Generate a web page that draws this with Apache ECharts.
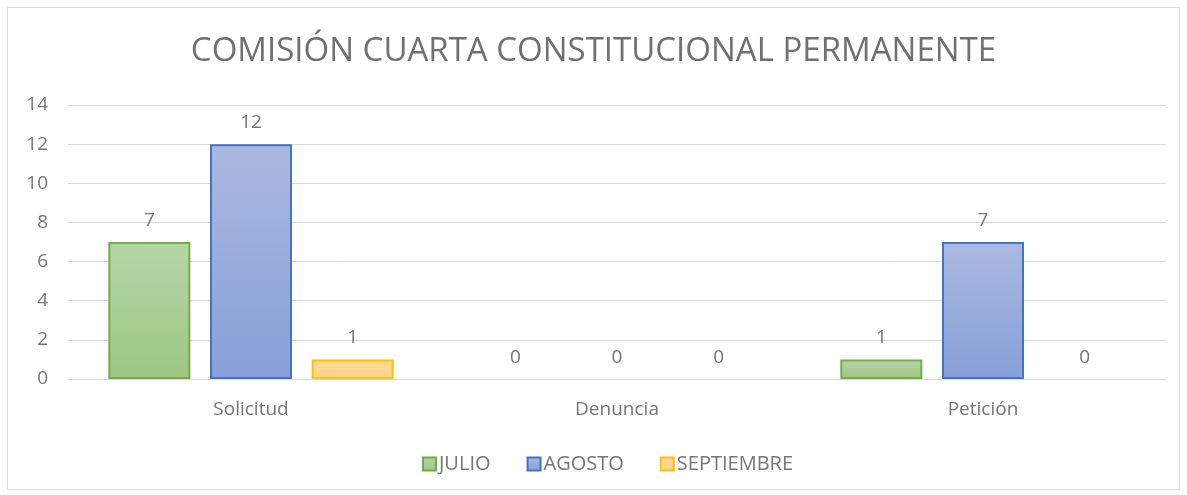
<!DOCTYPE html>
<html>
<head>
<meta charset="utf-8">
<script src="https://cdn.jsdelivr.net/npm/echarts@6/dist/echarts.min.js"></script>
<style>
  html, body { margin: 0; padding: 0; background: #fff; }
  #chart { width: 1187px; height: 495px; }
</style>
</head>
<body>
<div id="chart"></div>
<script>
const categories = ['Solicitud', 'Denuncia', 'Petición']
const julio = [7, 0, 1]
const agosto = [12, 0, 7]
const septiembre = [1, 0, 0]
const yTicks = { min: 0, max: 14, interval: 2 }

const font = '"Open Sans", sans-serif'
const textColor = '#757575'

// degradado vertical estilo Excel
function grad(top, bottom) {
  return new echarts.graphic.LinearGradient(0, 0, 0, 1, [
    { offset: 0, color: top },
    { offset: 1, color: bottom }
  ])
}

function barSeries(name, values, top, bottom, border) {
  return {
    name: name,
    type: 'bar',
    // las barras en cero no muestran borde
    data: values.map(v => v === 0 ? { value: v, itemStyle: { borderWidth: 0 } } : v),
    barWidth: 82,
    barGap: '24%',
    itemStyle: {
      color: grad(top, bottom),
      borderColor: border,
      borderWidth: 2
    },
    label: {
      show: true,
      position: 'top',
      distance: 12,
      color: textColor,
      fontSize: 19,
      fontFamily: font
    }
  }
}

const chart = echarts.init(document.getElementById('chart'))
chart.setOption({
  animation: false,
  graphic: [{
    type: 'rect',
    shape: { x: 7.5, y: 7.5, width: 1172, height: 482 },
    style: { fill: 'none', stroke: '#D9D9D9', lineWidth: 1 },
    silent: true
  }],
  title: {
    text: 'COMISIÓN CUARTA CONSTITUCIONAL PERMANENTE',
    left: 'center',
    top: 30,
    textStyle: {
      color: '#707070',
      fontSize: 33,
      fontWeight: 'normal',
      fontFamily: font
    }
  },
  legend: {
    bottom: 16,
    left: 417,
    itemWidth: 13,
    itemHeight: 13,
    itemGap: 36,
    icon: 'rect',
    textStyle: { color: textColor, fontSize: 20, fontFamily: font, padding: [0, 0, 0, -2] },
    data: ['JULIO', 'AGOSTO', 'SEPTIEMBRE']
  },
  grid: {
    left: 68,
    right: 21,
    top: 105,
    bottom: 116,
    containLabel: false
  },
  xAxis: {
    type: 'category',
    data: categories,
    axisLine: { lineStyle: { color: '#D9D9D9', width: 1 } },
    axisTick: { show: false },
    axisLabel: { color: textColor, fontSize: 19, fontFamily: font, margin: 21 }
  },
  yAxis: {
    type: 'value',
    min: yTicks.min,
    max: yTicks.max,
    interval: yTicks.interval,
    axisLine: { show: false },
    axisTick: { show: false },
    splitLine: { lineStyle: { color: '#D9D9D9', width: 1 } },
    axisLabel: { color: textColor, fontSize: 19, fontFamily: font, margin: 20 }
  },
  series: [
    barSeries('JULIO', julio, '#B5D5A7', '#9DC783', '#70AD47'),
    barSeries('AGOSTO', agosto, '#AAB9E0', '#87A0D8', '#4472C4'),
    barSeries('SEPTIEMBRE', septiembre, '#FFDC9A', '#FFD28A', '#FFC000')
  ]
})
</script>
</body>
</html>
